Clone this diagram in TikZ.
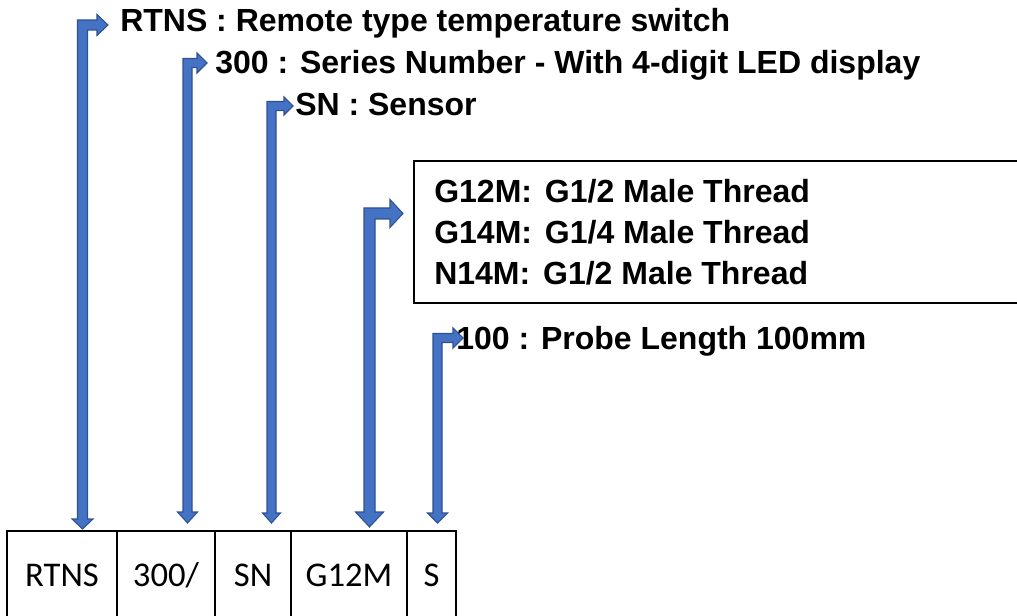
\documentclass[tikz,border=0pt]{standalone}
\usepackage{fontspec}
\setmainfont{Liberation Sans}
\newfontfamily\cellfont{Carlito}
\usepackage{tikz}
\usetikzlibrary{calc,backgrounds}
\definecolor{arrowfill}{HTML}{4472C4}
\definecolor{arrowline}{HTML}{2F528F}
\tikzset{
    cell/.style={rectangle,draw,line width=2pt,minimum height=88*0.75pt,inner sep=0pt,font=\cellfont\fontsize{26}{30}\selectfont},
    lbl/.style={rectangle,inner sep=0pt,anchor=base west,font=\bfseries\fontsize{24}{28}\selectfont},
    specbox/.style={rectangle,draw,line width=1.5pt,inner sep=0pt,anchor=north west},
    bent/.style={fill=arrowfill,draw=arrowline,line width=0.8pt,line join=miter},
}
% elbow arrow: #1 lower tip, #2 right tip, #3 half shaft, #4 half head, #5 lower head length, #6 right head length (all in px)
\newcommand{\bentarrow}[6]{%
    \path[bent] let \p1=#1, \p2=#2 in
        (\x1,\y1) -- (\x1+#4*0.75pt,\y1+#5*0.75pt) -- (\x1+#3*0.75pt,\y1+#5*0.75pt)
        -- (\x1+#3*0.75pt,\y2-#3*0.75pt) -- (\x2-#6*0.75pt,\y2-#3*0.75pt)
        -- (\x2-#6*0.75pt,\y2-#4*0.75pt) -- (\x2,\y2) -- (\x2-#6*0.75pt,\y2+#4*0.75pt)
        -- (\x2-#6*0.75pt,\y2+#3*0.75pt) -- (\x1-#3*0.75pt,\y2+#3*0.75pt)
        -- (\x1-#3*0.75pt,\y1+#5*0.75pt) -- (\x1-#4*0.75pt,\y1+#5*0.75pt) -- cycle;}

\begin{document}
\begin{tikzpicture}[x=0.75pt,y=-0.75pt]
        \useasboundingbox (0,0) rectangle (1017,616);
        \clip (0,0) rectangle (1017,616);

        % code cells
        \node[cell,minimum width=110*0.75pt] (cellRTNS) at (62,575) {RTNS};
        \node[cell,minimum width=98*0.75pt] (cell300) at (166,575) {300/};
        \node[cell,minimum width=76*0.75pt] (cellSN) at (253,575) {SN};
        \node[cell,minimum width=116*0.75pt] (cellG12M) at (349,575) {G12M};
        \node[cell,minimum width=49*0.75pt] (cellS) at (431.5,575) {S};

        % labels
        \node[lbl] (lblRTNS) at (120,32) {RTNS : Remote type temperature switch};
        \node[lbl] (lbl300) at (215,74) {300 : Series Number - With 4-digit LED display};
        \node[lbl] (lblSN) at (295,116) {SN : Sensor};
        \node[specbox,minimum width=700*0.75pt,minimum height=142*0.75pt] (spec) at (413,160) {};
        \node[lbl] (lblG12M) at (434,203) {G12M: \hspace{3pt}G1/2 Male Thread};
        \node[lbl] (lblG14M) at (434,244) {G14M: \hspace{3pt}G1/4 Male Thread};
        \node[lbl] (lblN14M) at (434,285) {N14M: \hspace{3pt}G1/2 Male Thread};
        \node[lbl] (lblS) at (456,350) {100 : Probe Length 100mm};

        % arrow ends
        \coordinate (downRTNS) at (82.5,529);
        \coordinate (upRTNS) at (108,25);
        \coordinate (down300) at (187.5,523);
        \coordinate (up300) at (207,63);
        \coordinate (downSN) at (271.5,523);
        \coordinate (upSN) at (293,106);
        \coordinate (downG12M) at (369.5,527);
        \coordinate (upG12M) at (403,213.5);
        \coordinate (downS) at (437.5,523);
        \coordinate (upS) at (463,338);

        \begin{scope}[on background layer]
        \bentarrow{(downRTNS)}{(upRTNS)}{5}{10.5}{10}{11}
        \bentarrow{(down300)}{(up300)}{4.5}{10}{11}{10}
        \bentarrow{(downSN)}{(upSN)}{4.5}{9}{10}{9}
        \bentarrow{(downG12M)}{(upG12M)}{5.5}{14}{15}{13}
        \bentarrow{(downS)}{(upS)}{4.5}{10}{10}{10}
        \end{scope}
\end{tikzpicture}
\end{document}
